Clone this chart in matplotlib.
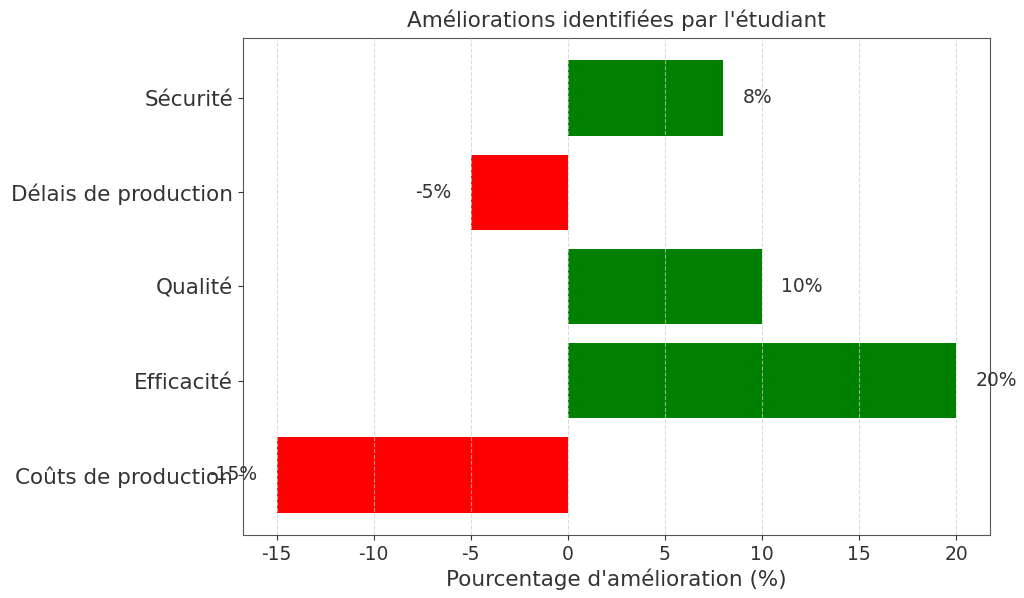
import matplotlib
matplotlib.use("Agg")
import matplotlib.pyplot as plt

categories = ["Coûts de production", "Efficacité", "Qualité", "Délais de production", "Sécurité"]
values = [-15, 20, 10, -5, 8]
labels = ["-15%", "20%", "10%", "-5%", "8%"]
xticks = [-15, -10, -5, 0, 5, 10, 15, 20]

plt.rcParams['font.family'] = ['DejaVu Sans']
plt.rcParams['axes.unicode_minus'] = False
plt.rcParams['text.color'] = '#333333'
plt.rcParams['xtick.color'] = '#333333'
plt.rcParams['ytick.color'] = '#333333'
plt.rcParams['axes.labelcolor'] = '#333333'

fig, ax = plt.subplots(figsize=(10.24, 5.98), dpi=100)
fig.subplots_adjust(left=0.237, right=0.967, top=0.937, bottom=0.105)

colors = ['green' if v > 0 else 'red' for v in values]
ax.barh(categories, values, color=colors, height=0.8, zorder=1)
for i, (v, lab) in enumerate(zip(values, labels)):
    if v >= 0:
        ax.text(v + 1, i, lab, va='center', ha='left', fontsize=13.5)
    else:
        ax.text(v - 1, i, lab, va='center', ha='right', fontsize=13.5)

ax.set_xticks(xticks)
ax.tick_params(axis='x', labelsize=13.5)
ax.tick_params(axis='y', labelsize=15.5)
ax.set_xlabel("Pourcentage d'amélioration (%)", fontsize=15.5, labelpad=3)
ax.set_title("Améliorations identifiées par l'étudiant", fontsize=15.5, pad=8)
ax.grid(axis='x', linestyle='--', color='#cccccc', alpha=0.7, zorder=2)
ax.set_axisbelow(False)
for s in ax.spines.values():
    s.set_color('#555555')

fig.savefig("out.png", dpi=100)
